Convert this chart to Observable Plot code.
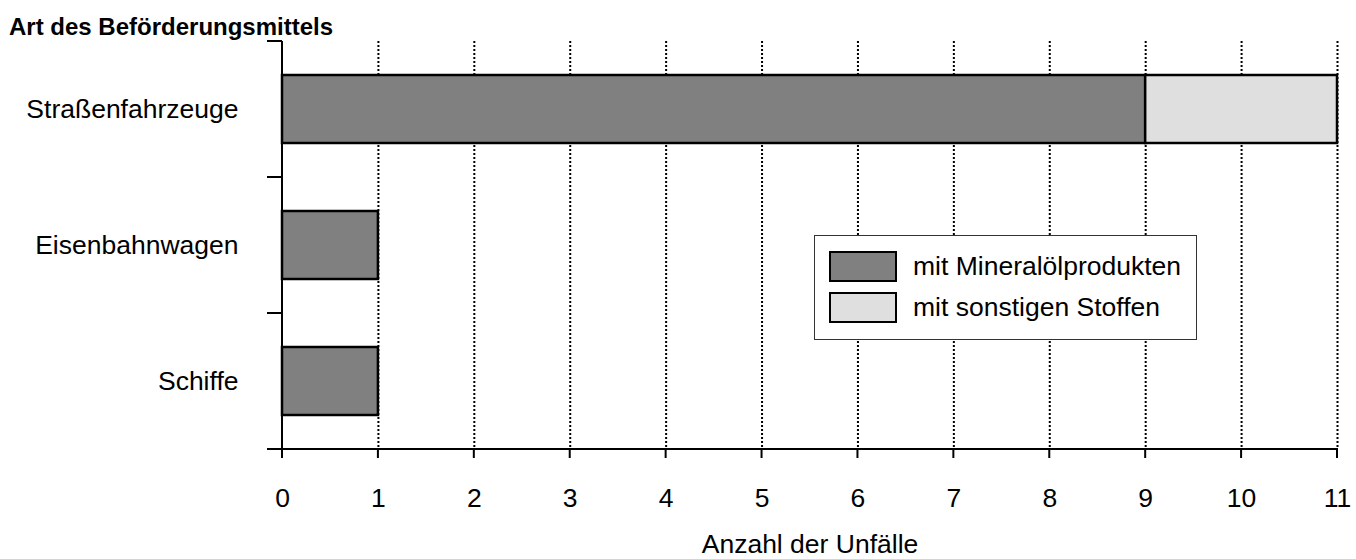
<!DOCTYPE html>
<html>
<head>
<meta charset="utf-8">
<script src="https://cdn.jsdelivr.net/npm/d3@7"></script>
<script src="https://cdn.jsdelivr.net/npm/@observablehq/plot@0.6"></script>
<style>
  html, body { margin: 0; padding: 0; background: #fff; }
  body { width: 1356px; height: 559px; position: relative; overflow: hidden; font-family: "Liberation Sans", Arial, sans-serif; }
  #title { position: absolute; left: 9px; top: 15px; font-weight: bold; font-size: 24px; line-height: 1; color: #000; white-space: nowrap; z-index: 3; }
  #chart { position: absolute; left: 0; top: 0; z-index: 1; }
  #legend { position: absolute; left: 814px; top: 235px; width: 383px; height: 105px; border: 1px solid #333; background: #fff; box-sizing: border-box; z-index: 2; }
  .item { position: absolute; left: 14px; height: 31px; display: flex; align-items: center; }
  .sw { width: 68px; height: 31px; border: 2px solid #000; box-sizing: border-box; margin-right: 16px; }
  .lab { font-size: 26.5px; color: #000; white-space: nowrap; }
</style>
</head>
<body>
<div id="title">Art des Beförderungsmittels</div>
<div id="chart"></div>
<div id="legend"></div>
<script>
const categories = ["Straßenfahrzeuge", "Eisenbahnwagen", "Schiffe"];
const seriesNames = ["mit Mineralölprodukten", "mit sonstigen Stoffen"];
const mineraloel = [9, 1, 1];
const sonstige = [2, 0, 0];
const xTicks = [0, 1, 2, 3, 4, 5, 6, 7, 8, 9, 10, 11];
const colors = ["#808080", "#dfdfdf"];

const data = [];
categories.forEach((c, i) => {
  data.push({cat: c, series: seriesNames[0], value: mineraloel[i]});
  data.push({cat: c, series: seriesNames[1], value: sonstige[i]});
});
const bars = data.filter(d => d.value > 0);

const W = 1356, H = 559;
const plot = Plot.plot({
  width: W,
  height: H,
  marginLeft: 282,
  marginRight: 19,
  marginTop: 41,
  marginBottom: 110,
  style: {fontFamily: '"Liberation Sans", Arial, sans-serif', fontSize: "26.5px", color: "#000", background: "#fff"},
  x: {domain: [0, 11]},
  y: {domain: categories, paddingInner: 0.5, paddingOuter: 0.25},
  color: {domain: seriesNames, range: colors},
  marks: [
    Plot.gridX(xTicks.filter(t => t > 0), {stroke: "#000", strokeOpacity: 1, strokeWidth: 2, strokeDasharray: "2,2"}),
    Plot.barX(bars, Plot.stackX({x: "value", y: "cat", fill: "series", stroke: "#000", strokeWidth: 2.5, order: seriesNames})),
    Plot.axisX(xTicks, {tickSize: 0, tickPadding: 39, label: "Anzahl der Unfälle", labelAnchor: "center", labelArrow: "none", labelOffset: 103, tickFormat: d => String(d)}),
    Plot.axisY({tickSize: 0, tickPadding: 44, label: null})
  ]
});
document.getElementById("chart").appendChild(plot);

// axis lines, x ticks and band boundary ticks using the plot's scales
const xs = plot.scale("x"), ys = plot.scale("y");
const svg = d3.select(plot);
const x0 = xs.apply(0), x11 = xs.apply(11);
const step = ys.step, bw = ys.bandwidth;
const bounds = categories.map(c => ys.apply(c) - (step - bw) / 2);
const yTop = bounds[0], yBot = ys.range[1];
bounds.push(yBot);
const g = svg.append("g").attr("stroke", "#000").attr("stroke-width", 2).attr("fill", "none");
g.append("line").attr("x1", x0).attr("x2", x0).attr("y1", yTop).attr("y2", yBot);
g.append("line").attr("x1", x0 - 15).attr("x2", x11 + 1).attr("y1", yBot).attr("y2", yBot);
bounds.forEach(b => g.append("line").attr("x1", x0 - 15).attr("x2", x0).attr("y1", b).attr("y2", b));
xTicks.forEach(t => g.append("line").attr("x1", xs.apply(t)).attr("x2", xs.apply(t)).attr("y1", yBot).attr("y2", yBot + 9));

// legend
const leg = document.getElementById("legend");
seriesNames.forEach((s, i) => {
  const it = document.createElement("div");
  it.className = "item";
  it.style.top = (15 + i * 41) + "px";
  it.innerHTML = `<div class="sw" style="background:${colors[i]}"></div><div class="lab">${s}</div>`;
  leg.appendChild(it);
});
</script>
</body>
</html>
